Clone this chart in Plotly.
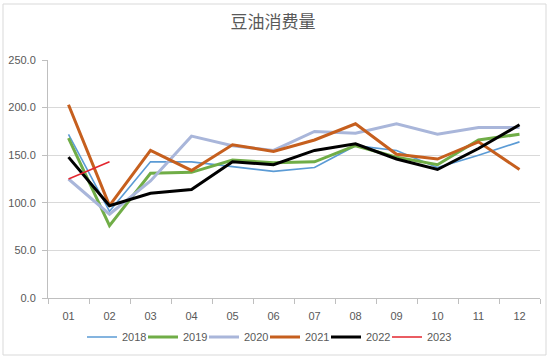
import plotly.graph_objects as go

months = ["01", "02", "03", "04", "05", "06", "07", "08", "09", "10", "11", "12"]
s2018 = [172, 91, 143, 143, 138, 133, 137, 160, 155, 137, 150, 164]
s2019 = [168, 76, 131, 132, 145, 142, 143, 160, 148, 140, 166, 172]
s2020 = [125, 88, 123, 170, 160, 155, 175, 173, 183, 172, 179, 179]
s2021 = [203, 97, 155, 134, 161, 154, 166, 183, 151, 146, 164, 135]
s2022 = [148, 97, 110, 114, 143, 140, 155, 162, 146, 135, 157, 182]
s2023 = [125, 143]

series = [
    ("2018", s2018, "#5B9BD5", 1.6),
    ("2019", s2019, "#70AD47", 3),
    ("2020", s2020, "#A9B6DA", 3),
    ("2021", s2021, "#C65F1E", 3),
    ("2022", s2022, "#000000", 3),
    ("2023", s2023, "#E3262E", 1.6),
]

fig = go.Figure()
for name, vals, color, w in series:
    fig.add_trace(go.Scatter(x=months[:len(vals)], y=vals, name=name, mode="lines",
                             line=dict(color=color, width=w)))
# invisible spacer so the last legend label is not clipped
fig.add_trace(go.Scatter(x=[None], y=[None], name=" ", mode="lines",
                         line=dict(color="rgba(0,0,0,0)", width=0), hoverinfo="skip"))

H = 361
fig.update_layout(
    width=550, height=H,
    paper_bgcolor="white", plot_bgcolor="white",
    margin=dict(l=48, r=10, t=60, b=63, autoexpand=False),
    title=dict(text="豆油消费量", x=273 / 550, xref="container", xanchor="center",
               y=1 - 22 / H, yanchor="middle",
               font=dict(family="Noto Sans CJK SC", size=17, color="#595959")),
    font=dict(family="Liberation Sans", size=11, color="#595959"),
    showlegend=True,
    legend=dict(orientation="h", x=(82 - 48) / 492, xanchor="left", y=-39 / 238,
                yanchor="middle", font=dict(size=11, color="#595959"), itemwidth=30,
                entrywidth=16, tracegroupgap=0),
    xaxis=dict(type="category", showgrid=False, showline=True, linecolor="#BFBFBF",
               ticks="outside", tickson="boundaries", ticklen=5, tickcolor="#BFBFBF",
               ticklabelstandoff=8, range=[-0.5, 11.5]),
    yaxis=dict(range=[0, 250], dtick=50, tickformat=".1f", showgrid=True,
               gridcolor="#D9D9D9", showline=True, linecolor="#BFBFBF",
               zeroline=False, ticks="outside", ticklen=5, tickcolor="#BFBFBF",
               ticklabelstandoff=4),
    shapes=[dict(type="rect", xref="paper", yref="paper", x0=-45 / 492, x1=1 + 6 / 492,
                 y0=-57 / 238, y1=1 + 56 / 238, line=dict(color="#D9D9D9", width=1))],
)

fig.write_html("out.html", post_script="document.body.style.margin='0';",
               config={"displayModeBar": False})
